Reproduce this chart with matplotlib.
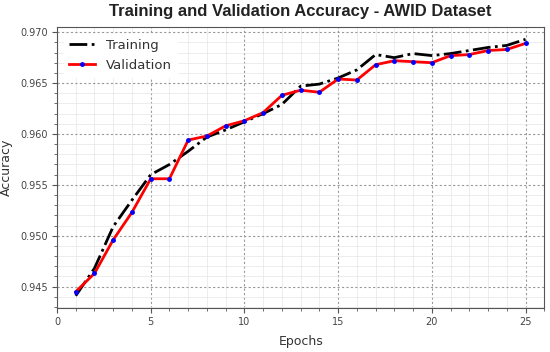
import matplotlib
matplotlib.use("Agg")
import matplotlib.pyplot as plt
from matplotlib.ticker import MultipleLocator

# epochs and accuracy values
epochs = list(range(1, 26))
train_acc = [0.9441, 0.9468, 0.9509, 0.9535, 0.9560, 0.9570, 0.9583, 0.9597, 0.9604,
             0.9612, 0.9620, 0.9629, 0.9647, 0.9649, 0.9655, 0.9663, 0.9678, 0.9675,
             0.9679, 0.9677, 0.9679, 0.9682, 0.9685, 0.9687, 0.9693]
val_acc = [0.9445, 0.9463, 0.9496, 0.9523, 0.9556, 0.9556, 0.9594, 0.9598, 0.9608,
           0.9613, 0.9621, 0.9638, 0.9643, 0.9641, 0.9654, 0.9653, 0.9668, 0.9672,
           0.9671, 0.9670, 0.9677, 0.9678, 0.9682, 0.9683, 0.9689]

fig = plt.figure(figsize=(5.5, 3.52), dpi=100)
ax = fig.add_axes([0.1036, 0.125, 0.886, 0.798])

ax.plot(epochs, train_acc, color='black', linestyle='-.', linewidth=2, label='Training')
ax.plot(epochs, val_acc, color='red', linewidth=2, marker='.', markersize=5,
        markerfacecolor='blue', markeredgecolor='blue', label='Validation')

ax.set_xlim(0, 26)
ax.set_ylim(0.9429, 0.9705)
ax.xaxis.set_major_locator(MultipleLocator(5))
ax.xaxis.set_minor_locator(MultipleLocator(1))
ax.yaxis.set_major_locator(MultipleLocator(0.005))
ax.yaxis.set_minor_locator(MultipleLocator(0.001))
ax.yaxis.set_major_formatter(plt.FormatStrFormatter('%.3f'))

ax.grid(which='major', color='#999999', linestyle=(0, (2, 2)), linewidth=0.8)
ax.grid(which='minor', color='#e6e6e6', linestyle='-', linewidth=0.5)
ax.set_axisbelow(True)

for s in ax.spines.values():
    s.set_color('#555555')
    s.set_linewidth(0.8)
ax.tick_params(which='both', colors='#555555', labelsize=7, labelcolor='#444444')
ax.tick_params(which='major', length=3.5, pad=3)
ax.tick_params(which='minor', length=2)

ax.set_xlabel('Epochs', fontsize=9, color='#333333', labelpad=6)
ax.set_ylabel('Accuracy', fontsize=9, color='#333333', labelpad=5)
ax.set_title('Training and Validation Accuracy - AWID Dataset', fontsize=12,
             fontweight='bold', family='Liberation Sans', color='#222222', pad=8)

leg = ax.legend(loc='upper left', fontsize=9.5, frameon=True, framealpha=1,
                edgecolor='white', fancybox=False)
for t in leg.get_texts():
    t.set_color('#333333')

fig.savefig('out.png', dpi=100)
